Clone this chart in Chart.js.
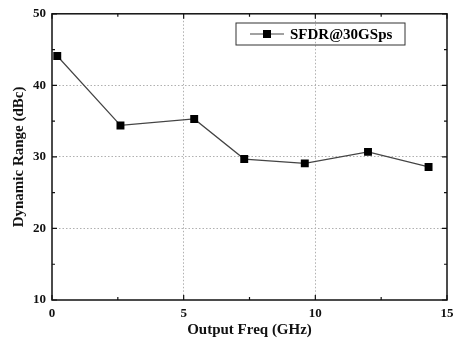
<!DOCTYPE html>
<html>
<head>
<meta charset="utf-8">
<script src="https://cdn.jsdelivr.net/npm/chart.js@4.4.0/dist/chart.umd.min.js"></script>
<style>
html, body { margin: 0; padding: 0; background: #fff; }
</style>
</head>
<body>
<canvas id="chart" width="453" height="350"></canvas>
<script>
// data
const freqGHz = [0.2, 2.6, 5.4, 7.3, 9.6, 12.0, 14.3];
const sfdrDbc = [44.1, 34.4, 35.3, 29.7, 29.1, 30.7, 28.6];
const xTicks = [0, 5, 10, 15];
const yTicks = [10, 20, 30, 40, 50];
const seriesLabel = 'SFDR@30GSps';

const FONT = "'Liberation Serif', 'Times New Roman', serif";

// frame, inward major/minor ticks (top/right mirrored)
const framePlugin = {
    id: 'frame',
    afterDraw(chart) {
        const { ctx, chartArea: a, scales: { x, y } } = chart;
        ctx.save();
        ctx.strokeStyle = '#111';
        ctx.lineWidth = 1.5;
        ctx.strokeRect(a.left, a.top, a.right - a.left, a.bottom - a.top);
        ctx.lineWidth = 1.2;
        const tick = (px, len, horiz) => {
            ctx.beginPath();
            if (horiz) {
                ctx.moveTo(px, a.bottom); ctx.lineTo(px, a.bottom - len);
                ctx.moveTo(px, a.top); ctx.lineTo(px, a.top + len);
            } else {
                ctx.moveTo(a.left, px); ctx.lineTo(a.left + len, px);
                ctx.moveTo(a.right, px); ctx.lineTo(a.right - len, px);
            }
            ctx.stroke();
        };
        xTicks.forEach((v, i) => {
            tick(x.getPixelForValue(v), 5, true);
            if (i < xTicks.length - 1) tick(x.getPixelForValue((v + xTicks[i + 1]) / 2), 3, true);
        });
        yTicks.forEach((v, i) => {
            tick(y.getPixelForValue(v), 5, false);
            if (i < yTicks.length - 1) tick(y.getPixelForValue((v + yTicks[i + 1]) / 2), 3, false);
        });
        ctx.restore();
    }
};

// boxed legend in the upper right
const legendBoxPlugin = {
    id: 'legendBox',
    afterDraw(chart) {
        const { ctx } = chart;
        const ds = chart.data.datasets[0];
        ctx.save();
        ctx.strokeStyle = '#333';
        ctx.lineWidth = 1;
        ctx.strokeRect(236, 23, 169, 22);
        ctx.strokeStyle = ds.borderColor;
        ctx.lineWidth = 1.2;
        ctx.beginPath();
        ctx.moveTo(250, 34); ctx.lineTo(284, 34);
        ctx.stroke();
        ctx.fillStyle = '#000';
        ctx.fillRect(263, 30, 8, 8);
        ctx.font = 'bold 15px ' + FONT;
        ctx.textBaseline = 'middle';
        ctx.fillText(ds.label, 290, 35);
        ctx.restore();
    }
};

const gridColor = (c) => {
    const v = c.tick && c.tick.value;
    return (v === c.scale.min || v === c.scale.max) ? 'rgba(0,0,0,0)' : '#b0b0b0';
};

new Chart(document.getElementById('chart'), {
    type: 'scatter',
    data: {
        datasets: [{
            label: seriesLabel,
            data: freqGHz.map((f, i) => ({ x: f, y: sfdrDbc[i] })),
            showLine: true,
            borderColor: '#444',
            borderWidth: 1.2,
            pointStyle: 'rect',
            pointRadius: 5.6,
            pointBackgroundColor: '#000',
            pointBorderColor: '#000',
            pointBorderWidth: 0
        }]
    },
    options: {
        responsive: false,
        animation: false,
        events: [],
        layout: { padding: { top: 8, right: 6, left: 0, bottom: 0 } },
        plugins: { legend: { display: false }, tooltip: { enabled: false } },
        scales: {
            x: {
                type: 'linear',
                min: 0, max: 15,
                afterBuildTicks: (s) => { s.ticks = xTicks.map(v => ({ value: v })); },
                afterFit: (s) => { s.height = 50; s.paddingLeft = 0; s.paddingRight = 0; },
                grid: { color: gridColor, drawTicks: false, lineWidth: 1 },
                border: { display: false, dash: [1.5, 2] },
                ticks: { color: '#111', padding: 6, font: { family: FONT, size: 13, weight: 'bold' } },
                title: {
                    display: true, text: 'Output Freq (GHz)', color: '#111',
                    font: { family: FONT, size: 15, weight: 'bold' },
                    padding: { top: 0, bottom: 11 }
                }
            },
            y: {
                min: 10, max: 50,
                afterBuildTicks: (s) => { s.ticks = yTicks.map(v => ({ value: v })); },
                afterFit: (s) => { s.width = 52; },
                grid: { color: gridColor, drawTicks: false, lineWidth: 1 },
                border: { display: false, dash: [1.5, 2] },
                ticks: { color: '#111', padding: 6, font: { family: FONT, size: 13, weight: 'bold' } },
                title: {
                    display: true, text: 'Dynamic Range (dBc)', color: '#111',
                    font: { family: FONT, size: 15, weight: 'bold' },
                    padding: { top: 10, bottom: 0 }
                }
            }
        }
    },
    plugins: [framePlugin, legendBoxPlugin]
});
</script>
</body>
</html>
